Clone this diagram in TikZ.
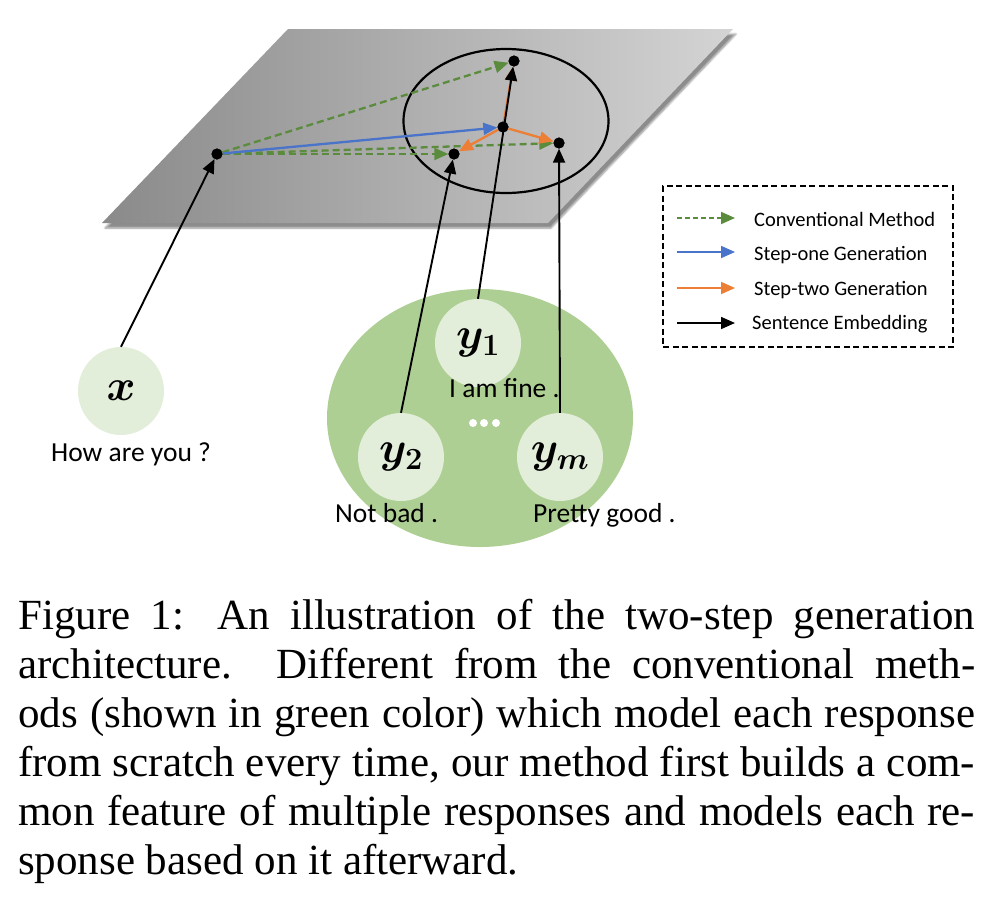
\RequirePackage{fix-cm}
\documentclass[tikz,border=0pt]{standalone}
\usepackage{fontspec}
\setmainfont{Liberation Serif}
\newfontfamily\carl{Carlito}
\usetikzlibrary{arrows.meta,shapes.geometric,shadows.blur}
\definecolor{planeL}{HTML}{8A8A8A}
\definecolor{planeR}{HTML}{D4D4D4}
\definecolor{bigGreen}{HTML}{AECF93}
\definecolor{lightGreen}{HTML}{E3EEDA}
\definecolor{cgreen}{HTML}{5B8C3E}
\definecolor{cblue}{HTML}{4A74C9}
\definecolor{corange}{HTML}{EC7E36}
\tikzset{
  dot/.style={circle,fill=black,inner sep=0pt,minimum size=11pt},
  tip/.style={-{Triangle[length=14pt,width=12pt]}},
  conv/.style={tip,draw=cgreen,line width=2.3pt,dash pattern=on 7pt off 4pt},
  stepone/.style={tip,draw=cblue,line width=2.3pt},
  steptwo/.style={tip,draw=corange,line width=2.3pt},
  emb/.style={tip,draw=black,line width=1.9pt},
  smallc/.style={ellipse,fill=lightGreen,minimum width=86pt,minimum height=88pt,inner sep=0pt,
    font=\fontsize{44}{44}\selectfont\boldmath},
  lbl/.style={font=\carl\fontsize{27.5}{27.5}\selectfont,inner sep=0pt,anchor=base west},
  legtext/.style={font=\carl\fontsize{20.5}{20.5}\selectfont,inner sep=0pt,anchor=base west},
  capline/.style={font=\fontsize{43}{49}\selectfont,inner sep=0pt,anchor=base west},
}
\begin{document}
\begin{tikzpicture}[x=1pt,y=-1pt]
\useasboundingbox (0,0) rectangle (1002,914);
% plane
\coordinate (p1) at (102,223);
\coordinate (p2) at (288,29);
\coordinate (p3) at (733,29);
\coordinate (p4) at (548,223);
\path[blur shadow={shadow xshift=3pt,shadow yshift=-5pt,shadow blur steps=6,shadow opacity=45},
  left color=planeL,right color=planeR] (p1) -- (p2) -- (p3) -- (p4) -- cycle;
% cluster ellipse
\node[ellipse,draw=black,line width=2.2pt,minimum width=205pt,minimum height=144pt,inner sep=0pt] (cl) at (506,121) {};
% dots
\node[dot] (d0) at (217,154) {};
\node[dot] (dc) at (503,127) {};
\node[dot] (dt) at (514,61) {};
\node[dot] (dr) at (559,143) {};
\node[dot] (dl) at (454,154) {};
% response group
\node[ellipse,fill=bigGreen,minimum width=306pt,minimum height=258pt,inner sep=0pt] (grp) at (480,418) {};
\node[smallc] (x) at (121,391) {$x$};
\node[smallc] (y1) at (478,343) {$y_1$};
\node[smallc] (y2) at (401,457) {$y_2$};
\node[smallc] (ym) at (560,457) {$y_m$};
\foreach \i/\xx in {1/473,2/484,3/496} \fill[white] (\xx,423) circle (4pt);
% labels
\node[lbl] (tx) at (51,461) {How are you ?};
\node[lbl] (t1) at (449,397) {I am fine .};
\node[lbl] (t2) at (335,522) {Not bad .};
\node[lbl] (tm) at (533,522) {Pretty good .};
% arrows on plane
\draw[conv] (d0) -- (dt);
\draw[conv] (d0) -- (dr);
\draw[conv] (d0) -- (dl);
\draw[stepone] (d0) -- (dc);
\draw[steptwo] (dc) -- (dt);
\draw[steptwo] (dc) -- (dr);
\draw[steptwo] (dc) -- (dl);
% embeddings
\draw[emb] (x.north) -- (d0);
\draw[emb] (y1.north) -- (dt);
\draw[emb] (y2.north) -- (dl);
\draw[emb] (ym.north) -- (dr);
% redraw dots on top
\foreach \d in {d0,dc,dt,dr,dl} \fill[black] (\d) circle (5.5pt);
% legend
\node[draw=black,line width=1.6pt,dash pattern=on 6pt off 3.5pt,minimum width=290pt,minimum height=161pt,inner sep=0pt] (lg) at (808,266.5) {};
\coordinate (la1) at (677,218); \coordinate (lb1) at (735,218);
\coordinate (la2) at (677,252); \coordinate (lb2) at (735,252);
\coordinate (la3) at (677,288); \coordinate (lb3) at (735,288);
\coordinate (la4) at (677,323); \coordinate (lb4) at (735,323);
\draw[conv,line width=1.8pt,dash pattern=on 5pt off 3pt] (la1) -- (lb1);
\draw[stepone,line width=1.8pt] (la2) -- (lb2);
\draw[steptwo,line width=1.8pt] (la3) -- (lb3);
\draw[emb,line width=1.6pt] (la4) -- (lb4);
\node[legtext] (lt1) at (754,226) {Conventional Method};
\node[legtext] (lt2) at (754,260) {Step-one Generation};
\node[legtext] (lt3) at (754,295) {Step-two Generation};
\node[legtext] (lt4) at (752,329) {Sentence Embedding};
% caption
\node[capline] (cap1) at (18,629) {\makebox[957pt][s]{Figure 1: An illustration of the two-step generation}};
\node[capline] (cap2) at (18,678) {\makebox[957pt][s]{architecture. Different from the conventional meth-}};
\node[capline] (cap3) at (18,727) {\makebox[957pt][s]{ods (shown in green color) which model each response}};
\node[capline] (cap4) at (18,776) {\makebox[957pt][s]{from scratch every time, our method first builds a com-}};
\node[capline] (cap5) at (18,825) {\makebox[957pt][s]{mon feature of multiple responses and models each re-}};
\node[capline] (cap6) at (18,874) {sponse based on it afterward.};
\end{tikzpicture}
\end{document}
